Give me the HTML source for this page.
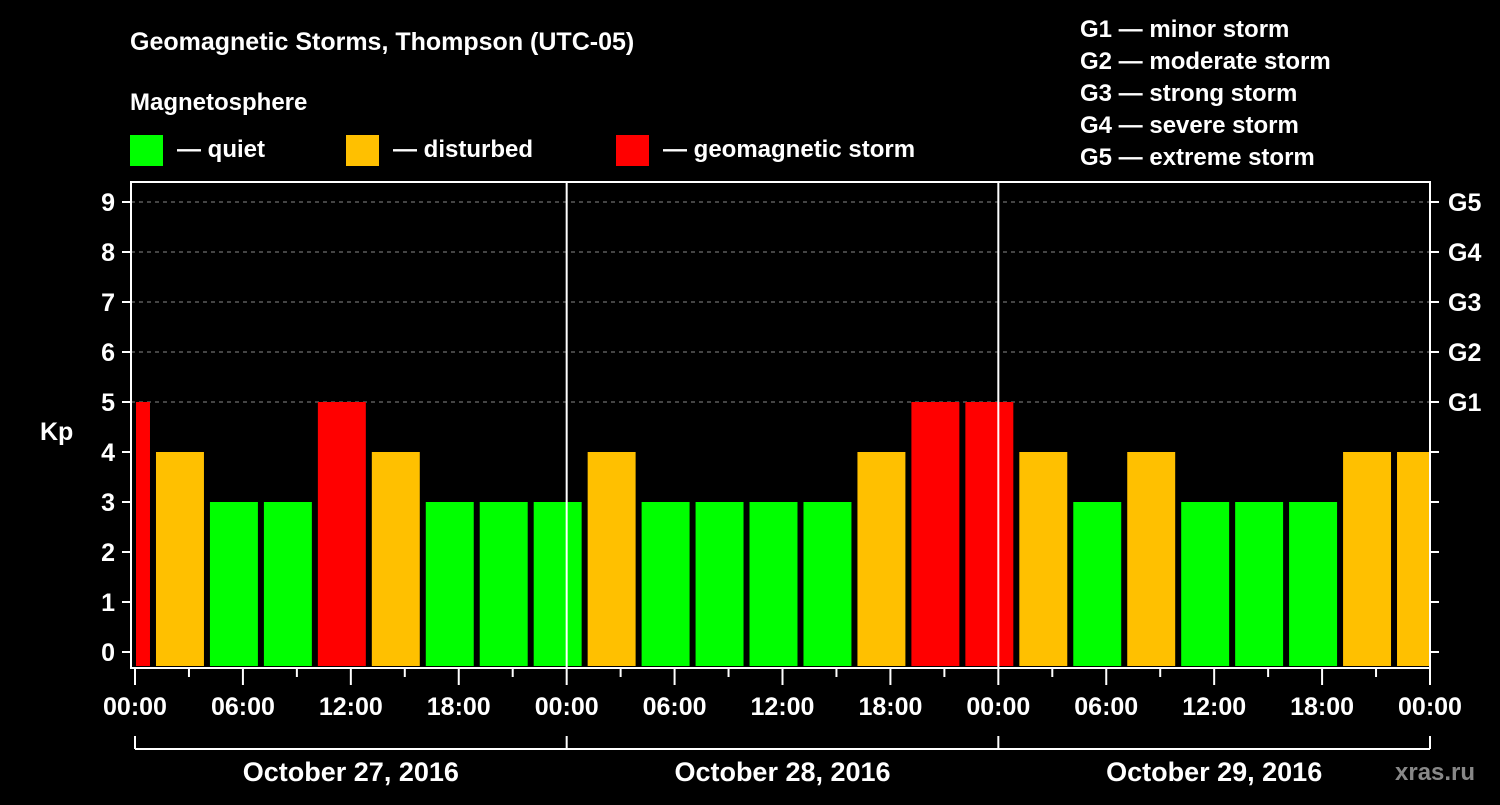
<!DOCTYPE html>
<html><head><meta charset="utf-8"><style>
body{margin:0;background:#000;width:1500px;height:800px;overflow:hidden}
text{font-family:"Liberation Sans",sans-serif;font-weight:bold;fill:#fff}
</style></head><body>
<svg id="c" width="1500" height="800">
<text x="130" y="50" font-size="25">Geomagnetic Storms, Thompson (UTC-05)</text>
<text x="130" y="110" font-size="24">Magnetosphere</text>
<g><rect x="130" y="135" width="33" height="31" fill="#00ff00"/><text x="177" y="157" font-size="24">— quiet</text></g>
<g><rect x="346" y="135" width="33" height="31" fill="#ffc000"/><text x="393" y="157" font-size="24">— disturbed</text></g>
<g><rect x="616" y="135" width="33" height="31" fill="#ff0000"/><text x="663" y="157" font-size="24">— geomagnetic storm</text></g>
<g font-size="24">
<text x="1080" y="37">G1 — minor storm</text><text x="1080" y="69">G2 — moderate storm</text><text x="1080" y="101">G3 — strong storm</text><text x="1080" y="133">G4 — severe storm</text><text x="1080" y="165">G5 — extreme storm</text></g>
<text x="40" y="440" font-size="25">Kp</text>
<g id="plot"></g>
<text x="1395" y="780" font-size="24" style="fill:#888">xras.ru</text>
</svg>
<script>
const kpValues=[5,4,3,3,5,4,3,3,3,4,3,3,3,3,4,5,5,4,3,4,3,3,3,4,4];
const yTicks=[0,1,2,3,4,5,6,7,8,9];
const gLabels=["G1","G2","G3","G4","G5"];
const xLabels=["00:00","06:00","12:00","18:00","00:00","06:00","12:00","18:00","00:00","06:00","12:00","18:00","00:00"];
const dayLabels=["October 27, 2016","October 28, 2016","October 29, 2016"];
const L=131,R=1430,T=182,B=668,X0=135,PH=(1430-135)/72;
const y=v=>652-v*50, x=h=>X0+h*PH;
const g=document.getElementById('plot'),NS="http://www.w3.org/2000/svg";
function mk(t,a,p){const e=document.createElementNS(NS,t);for(const k in a)e.setAttribute(k,a[k]);(p||g).appendChild(e);return e;}
// grid
for(let v=5;v<=9;v++){const e=mk('line',{x1:L,x2:R,y1:y(v),y2:y(v),stroke:'#888','stroke-dasharray':'4,4'});

}
// bars
kpValues.forEach((v,i)=>{const h0=-2+3*i;let x1=x(h0)+3,x2=x(h0+3)-3;x1=Math.max(x1,L+5);x2=Math.min(x2,R);
const c=v>=5?'#ff0000':v==4?'#ffc000':'#00ff00';
const e=mk('rect',{x:x1,y:y(v),width:x2-x1,height:B-2-y(v),fill:c});

});
// day separators
[1,2].forEach(d=>{const e=mk('line',{x1:x(24*d),x2:x(24*d),y1:T,y2:B,stroke:'#fff','stroke-width':2});

});
// frame
const f=mk('rect',{x:L,y:T,width:R-L,height:B-T,fill:'none',stroke:'#fff','stroke-width':2});


// y ticks
yTicks.forEach(v=>{mk('line',{x1:L-9,x2:L,y1:y(v),y2:y(v),stroke:'#fff','stroke-width':2});mk('line',{x1:R,x2:R+9,y1:y(v),y2:y(v),stroke:'#fff','stroke-width':2});
const t=mk('text',{x:L-16,y:y(v)+9,'font-size':25,'text-anchor':'end'});t.textContent=v;

});
gLabels.forEach((s,i)=>{const t=mk('text',{x:1448,y:y(5+i)+9,'font-size':25});t.textContent=s;

});
// x ticks
for(let h=0;h<=72;h+=3){const long=h%6==0;mk('line',{x1:x(h),x2:x(h),y1:B,y2:B+(long?17:9),stroke:'#fff','stroke-width':2});}
xLabels.forEach((s,i)=>{const t=mk('text',{x:x(6*i),y:715,'font-size':25,'text-anchor':'middle'});t.textContent=s;

});
mk('line',{x1:x(0),x2:R,y1:749,y2:749,stroke:'#fff','stroke-width':2});
[0,1,2,3].forEach(d=>mk('line',{x1:x(24*d),x2:x(24*d),y1:736,y2:749,stroke:'#fff','stroke-width':2}));
dayLabels.forEach((s,i)=>{const t=mk('text',{x:x(24*i+12),y:781,'font-size':27,'text-anchor':'middle'});t.textContent=s;

});
</script>
</body></html>
